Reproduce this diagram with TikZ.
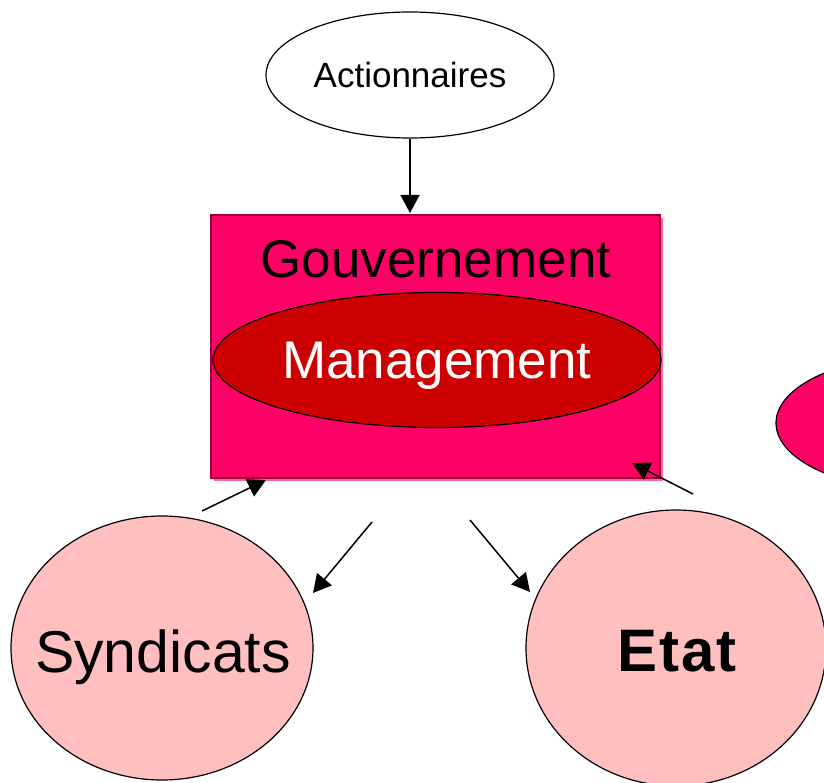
\documentclass[tikz,border=0pt]{standalone}
\usepackage{fontspec}
\setmainfont{Liberation Sans}
\usetikzlibrary{shapes.geometric,arrows.meta}
\definecolor{boxpink}{HTML}{FF0066}
\definecolor{boxshadow}{HTML}{FF6699}
\definecolor{boxedge}{HTML}{990033}
\definecolor{mgmtred}{HTML}{CC0000}
\definecolor{softpink}{HTML}{FFBFBF}
\tikzset{
	oval/.style = {ellipse, draw = black, line width = 1.2pt, inner sep = 0pt},
	link/.style = {-{Triangle[length=18pt, width=19pt]}, line width = 1.5pt}
}
\begin{document}
\begin{tikzpicture}[x = 1pt, y = -1pt]
		\useasboundingbox (0,0) rectangle (824,783);
		\clip (0,0) rectangle (824,783);
		% box with its shadow
		\fill [boxshadow] (214,218) rectangle (663,481);
		\draw [fill=boxpink, draw = boxedge, line width = 1.5pt] (211,215) rectangle (660,478);
		\coordinate (boxtop) at (410,213);
		\node (gouv) at (436,259) {\fontsize{53}{60}\selectfont Gouvernement};
		\node [oval, fill = mgmtred, minimum width = 448pt, minimum height = 135pt] (mgmt) at (437,360) {};
		\node [text = white] (mgmttext) at (437,366) {\fontsize{53}{60}\selectfont Management};
		% other parties
		\node [oval, fill = white, minimum width = 288pt, minimum height = 126pt] (action) at (410,75) {};
		\node (actiontext) at (410,75) {\fontsize{35}{40}\selectfont Actionnaires};
		\node [oval, fill = softpink, minimum width = 302pt, minimum height = 264pt] (synd) at (162,648) {};
		\node (syndtext) at (163,657) {\fontsize{59}{66}\selectfont Syndicats};
		\node [oval, fill = softpink, minimum width = 300pt, minimum height = 276pt] (etat) at (676,648) {};
		\node (etattext) at (677,651) {\fontsize{60}{66}\selectfont\bfseries E\kern2pt t\kern2pt a\kern2pt t};
		\node [oval, fill = boxpink, minimum width = 300pt, minimum height = 136pt] (right) at (926,423) {};
		% arrows
		\coordinate (s1) at (202,511);
		\coordinate (t1) at (266,480);
		\coordinate (s2) at (372,522);
		\coordinate (t2) at (313,593);
		\coordinate (s3) at (470,520);
		\coordinate (t3) at (530,592);
		\coordinate (s4) at (693,494);
		\coordinate (t4) at (632,463);
		\draw [link] (action) -- (boxtop);
		\draw [link] (s1) -- (t1);
		\draw [link] (s2) -- (t2);
		\draw [link] (s3) -- (t3);
		\draw [link] (s4) -- (t4);
		\end{tikzpicture}
\end{document}
